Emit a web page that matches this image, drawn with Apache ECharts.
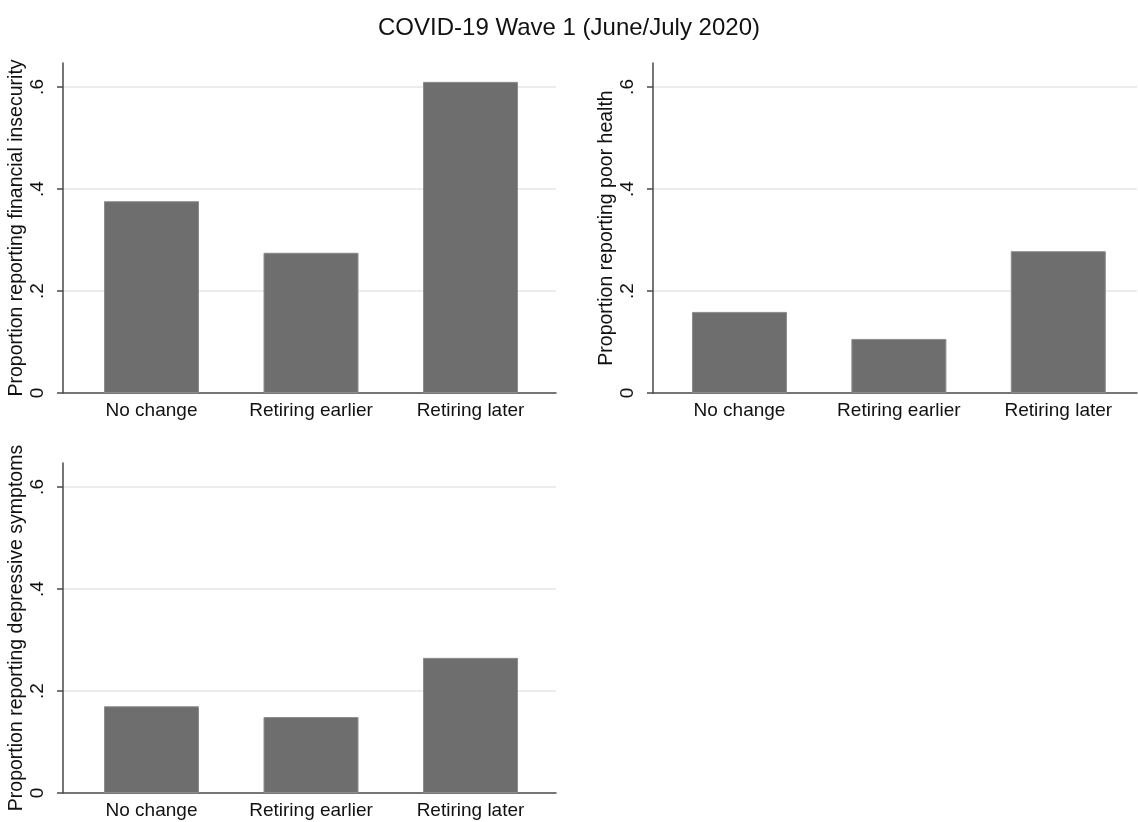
<!DOCTYPE html>
<html>
<head>
<meta charset="utf-8">
<script src="https://cdn.jsdelivr.net/npm/echarts@6/dist/echarts.min.js"></script>
<style>html,body{margin:0;padding:0;background:#fff}#chart{width:1138px;height:822px}</style>
</head>
<body>
<div id="chart"></div>
<script>
const title = 'COVID-19 Wave 1 (June/July 2020)';
const categories = ['No change', 'Retiring earlier', 'Retiring later'];
const financialInsecurity = [0.376, 0.275, 0.610];
const poorHealth = [0.159, 0.106, 0.278];
const depressiveSymptoms = [0.170, 0.149, 0.265];
const yTicks = [0, 0.2, 0.4, 0.6];
const yMax = 0.647;
const panelTitles = [
  'Proportion reporting financial insecurity',
  'Proportion reporting poor health',
  'Proportion reporting depressive symptoms'
];
const panelData = [financialInsecurity, poorHealth, depressiveSymptoms];

const FONT = '"Liberation Sans", Arial, Helvetica, sans-serif';
const frames = [
  {left: 63, top: 63, width: 493, height: 330},
  {left: 653, top: 63, width: 484, height: 330},
  {left: 63, top: 463, width: 493, height: 330}
];
const barGrids = [
  {left: 71.75, top: 63, width: 478.5, height: 330},
  {left: 659.75, top: 63, width: 478.5, height: 330},
  {left: 71.75, top: 463, width: 478.5, height: 330}
];

const grid = [], xAxis = [], yAxis = [], series = [];
const fmt = v => Math.abs(v) < 1e-9 ? '0' : String(+(+v).toFixed(1)).replace(/^0/, '');

for (let i = 0; i < 3; i++) {
  grid.push(frames[i]);
  grid.push(barGrids[i]);
  const gf = 2 * i, gb = 2 * i + 1;
  xAxis.push({
    type: 'value', gridIndex: gf, min: 0, max: 1,
    axisLine: {show: true, lineStyle: {color: '#4a4a4a', width: 1.5}},
    axisTick: {show: false}, axisLabel: {show: false}, splitLine: {show: false}
  });
  yAxis.push({
    type: 'value', gridIndex: gf, min: 0, max: yMax, interval: 0.2,
    name: panelTitles[i], nameLocation: 'middle', nameRotate: 90, nameGap: 36,
    nameTextStyle: {fontFamily: FONT, fontSize: 19.5, color: '#111'},
    axisLine: {show: true, lineStyle: {color: '#4a4a4a', width: 1.5}},
    axisTick: {show: true, length: 6, customValues: yTicks, lineStyle: {color: '#4a4a4a', width: 1.5}},
    axisLabel: {show: true, rotate: 90, margin: 16, customValues: yTicks,
      fontFamily: FONT, fontSize: 19, color: '#111', formatter: fmt},
    splitLine: {show: true, showMinLine: false, lineStyle: {color: '#e6e6e6', width: 1.5}}
  });
  xAxis.push({
    type: 'category', gridIndex: gb, data: categories,
    axisLine: {show: false}, axisTick: {show: false},
    axisLabel: {show: true, interval: 0, margin: 8, fontFamily: FONT, fontSize: 19, color: '#111'},
    splitLine: {show: false}
  });
  yAxis.push({
    type: 'value', gridIndex: gb, min: 0, max: yMax, show: false, splitLine: {show: false}
  });
  series.push({
    type: 'bar', xAxisIndex: 2 * i + 1, yAxisIndex: 2 * i + 1,
    data: panelData[i], barWidth: 95, z: 3,
    itemStyle: {color: '#6e6e6e', borderColor: '#8c8c8c', borderWidth: 1},
    silent: true
  });
}

const chart = echarts.init(document.getElementById('chart'), null, {renderer: 'canvas'});
chart.setOption({
  animation: false,
  backgroundColor: '#ffffff',
  title: {text: title, left: 'center', top: 11,
    textStyle: {fontFamily: FONT, fontSize: 24, fontWeight: 'normal', color: '#111'}},
  grid, xAxis, yAxis, series
});
</script>
</body>
</html>
